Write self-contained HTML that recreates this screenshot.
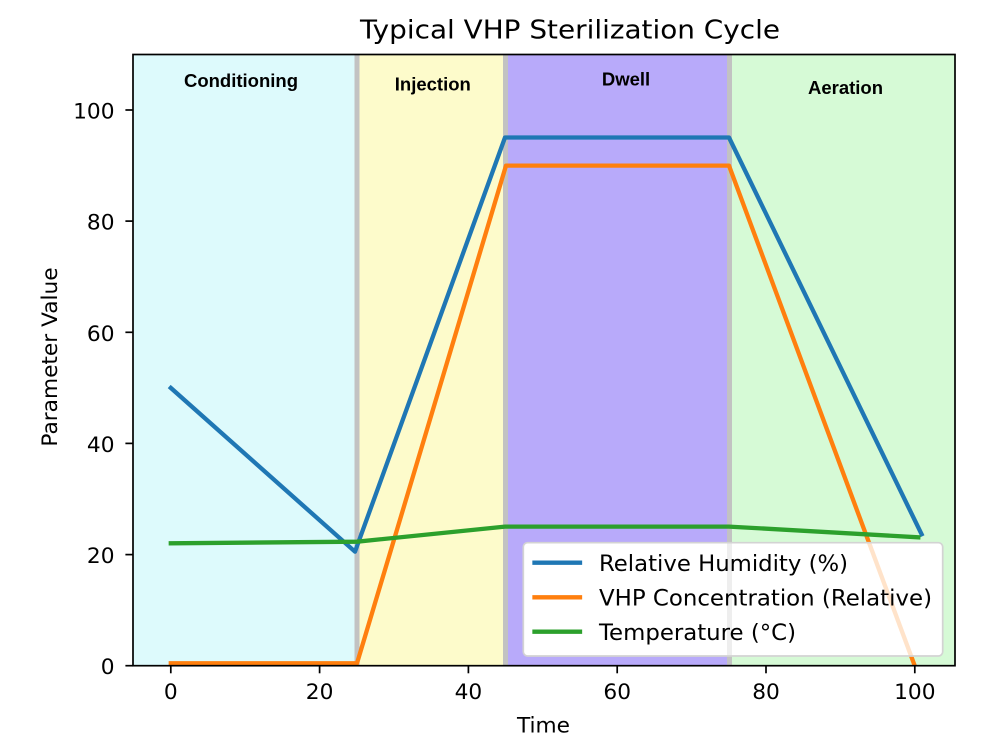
<!DOCTYPE html>
<html>
<head>
<meta charset="utf-8">
<style>
  html,body{margin:0;padding:0;background:#fff;}
  svg{display:block;}
  .tk{font-family:"DejaVu Sans","Liberation Sans",sans-serif;font-size:21.7px;fill:#000;}
  .lg{font-family:"DejaVu Sans","Liberation Sans",sans-serif;font-size:22.6px;fill:#000;}
  .ph{font-family:"Liberation Sans",Arial,sans-serif;font-weight:bold;font-size:18.5px;fill:#000;}
</style>
</head>
<body>
<svg width="1000" height="753" viewBox="0 0 1000 753" xmlns="http://www.w3.org/2000/svg">
  <defs>
    <clipPath id="ax"><rect x="133" y="54.5" width="822" height="611.2"/></clipPath>
    <clipPath id="lgc"><rect x="524" y="543.5" width="418" height="111.7" rx="4" ry="4"/></clipPath>
  </defs>
  <rect x="0" y="0" width="1000" height="753" fill="#fff"/>

  <!-- phase shading -->
  <g clip-path="url(#ax)">
    <rect x="133" y="54.5" width="224" height="612" fill="#ddfafc"/>
    <rect x="357" y="54.5" width="148" height="612" fill="#fdfbcb"/>
    <rect x="505" y="54.5" width="224" height="612" fill="#b8aafa"/>
    <rect x="729" y="54.5" width="226" height="612" fill="#d6fad6"/>
    <line x1="357" y1="54.5" x2="357" y2="666" stroke="#c2c2c2" stroke-width="5"/>
    <line x1="505.5" y1="54.5" x2="505.5" y2="666" stroke="#c2c2c2" stroke-width="5"/>
    <line x1="729.5" y1="54.5" x2="729.5" y2="666" stroke="#c2c2c2" stroke-width="5"/>

    <polyline points="170.8,387.9 355,551.7 505,137.5 729,137.5 921.6,534.3" fill="none" stroke="#1f77b4" stroke-width="4.3" stroke-linejoin="round" stroke-linecap="square"/>
    <polyline points="170.8,663.3 357,663.3 506,165.6 729,165.6 915,666.5" fill="none" stroke="#ff7f0e" stroke-width="4.3" stroke-linejoin="round" stroke-linecap="square"/>
    <polyline points="170.8,543.3 357,541.7 505,526.6 729,526.6 918.3,537.3" fill="none" stroke="#2ca02c" stroke-width="4.3" stroke-linejoin="round" stroke-linecap="square"/>
  </g>

  <!-- phase labels -->
  <text class="ph" x="241" y="87" text-anchor="middle">Conditioning</text>
  <text class="ph" x="432.8" y="90.5" text-anchor="middle">Injection</text>
  <text class="ph" x="626" y="85.7" text-anchor="middle">Dwell</text>
  <text class="ph" x="845.5" y="94" text-anchor="middle">Aeration</text>

  <!-- legend -->
  <rect x="523.3" y="542.7" width="419.4" height="113.3" rx="4.3" ry="4.3" fill="#ffffff" stroke="#d3d3d3" stroke-width="1.7"/>
  <g clip-path="url(#lgc)" opacity="0.22">
    <line x1="729.5" y1="540" x2="729.5" y2="666" stroke="#b0b0b0" stroke-width="5"/>
    <polyline points="729,165.6 915,666.5" fill="none" stroke="#ff7f0e" stroke-width="4.3"/>
  </g>
  <line x1="534.5" y1="562.7" x2="580" y2="562.7" stroke="#1f77b4" stroke-width="4.3" stroke-linecap="square"/>
  <line x1="534.5" y1="597.3" x2="580" y2="597.3" stroke="#ff7f0e" stroke-width="4.3" stroke-linecap="square"/>
  <line x1="534.5" y1="631.7" x2="580" y2="631.7" stroke="#2ca02c" stroke-width="4.3" stroke-linecap="square"/>
  <text class="lg" x="599" y="571" textLength="249" lengthAdjust="spacingAndGlyphs">Relative Humidity (%)</text>
  <text class="lg" x="599" y="605.5" textLength="333" lengthAdjust="spacingAndGlyphs">VHP Concentration (Relative)</text>
  <text class="lg" x="599" y="640" textLength="197" lengthAdjust="spacingAndGlyphs">Temperature (°C)</text>

  <!-- spines -->
  <rect x="133" y="54.5" width="822" height="611.2" fill="none" stroke="#000" stroke-width="1.7"/>

  <!-- x ticks -->
  <g stroke="#000" stroke-width="1.7">
    <line x1="170.8" y1="665.7" x2="170.8" y2="673.3"/>
    <line x1="319.6" y1="665.7" x2="319.6" y2="673.3"/>
    <line x1="468.4" y1="665.7" x2="468.4" y2="673.3"/>
    <line x1="617.2" y1="665.7" x2="617.2" y2="673.3"/>
    <line x1="766" y1="665.7" x2="766" y2="673.3"/>
    <line x1="914.8" y1="665.7" x2="914.8" y2="673.3"/>
  </g>
  <g class="tk" text-anchor="middle">
    <text x="170.8" y="699">0</text>
    <text x="319.6" y="699">20</text>
    <text x="468.4" y="699">40</text>
    <text x="617.2" y="699">60</text>
    <text x="766" y="699">80</text>
    <text x="914.8" y="699">100</text>
  </g>

  <!-- y ticks -->
  <g stroke="#000" stroke-width="1.7">
    <line x1="125.4" y1="665.7" x2="133" y2="665.7"/>
    <line x1="125.4" y1="554.6" x2="133" y2="554.6"/>
    <line x1="125.4" y1="443.4" x2="133" y2="443.4"/>
    <line x1="125.4" y1="332.3" x2="133" y2="332.3"/>
    <line x1="125.4" y1="221.1" x2="133" y2="221.1"/>
    <line x1="125.4" y1="110" x2="133" y2="110"/>
  </g>
  <g class="tk" text-anchor="end">
    <text x="114.5" y="674.2">0</text>
    <text x="114.5" y="563.1">20</text>
    <text x="114.5" y="451.9">40</text>
    <text x="114.5" y="340.8">60</text>
    <text x="114.5" y="229.6">80</text>
    <text x="114.5" y="118.5">100</text>
  </g>

  <!-- axis labels -->
  <text class="tk" x="543.5" y="732.5" text-anchor="middle">Time</text>
  <text class="tk" x="0" y="0" text-anchor="middle" transform="translate(57,357) rotate(-90)">Parameter Value</text>

  <!-- title -->
  <text x="360" y="38.3" font-family="DejaVu Sans, Liberation Sans, sans-serif" font-size="26px" fill="#000" textLength="420" lengthAdjust="spacingAndGlyphs">Typical VHP Sterilization Cycle</text>
</svg>
</body>
</html>
